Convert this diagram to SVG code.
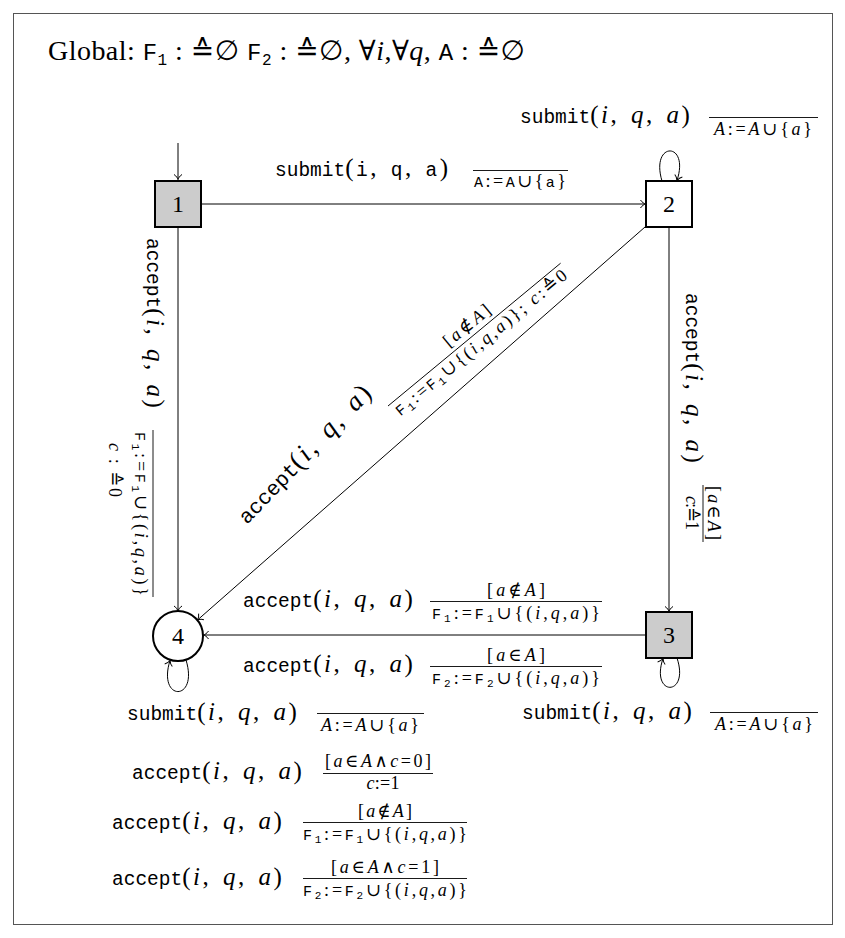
<svg xmlns="http://www.w3.org/2000/svg" width="845" height="938" viewBox="0 0 845 938">
<defs>
<style>
text { font-family: "Liberation Serif","DejaVu Serif","DejaVu Sans",serif; fill:#000; }
.tt { font-family: "Liberation Mono","DejaVu Sans Mono",monospace; }
.it { font-style: italic; }
.H { font-size: 28px; }
.H .tt { font-size: 24px; }
.L { font-size: 25px; }
.L .tt { font-size: 19.5px; }
.D { font-size: 27px; }
.D .tt { font-size: 21px; }
.m { letter-spacing: 2.5px; word-spacing: 3px; }
.S { font-size: 18px; }
.S .tt { font-size: 15px; }
.sb { font-family: "Liberation Mono","DejaVu Sans Mono",monospace; font-size: 11px; }
.H .sb { font-size: 16px; }
.bar { stroke:#000; stroke-width:0.9; }
.edge { fill:none; stroke:#000; stroke-width:1; marker-end:url(#arr); }
.sq { stroke:#000; stroke-width:2; }
.num { font-size: 24px; text-anchor: middle; }
</style>
<marker id="arr" markerUnits="userSpaceOnUse" markerWidth="12" markerHeight="12" viewBox="-7 -6 8 12" refX="0" refY="0" orient="auto">
<path d="M-5,-4 C-3.5,-1.5 -1,-0.4 0,0 C-1,0.4 -3.5,1.5 -5,4" fill="none" stroke="#000" stroke-width="1"/>
</marker>
</defs>
<rect x="13.5" y="13.5" width="819" height="911" fill="#fff" stroke="#555" stroke-width="1"/>

<text class="H" x="48" y="60" textLength="477" lengthAdjust="spacing">Global: <tspan class="tt">F</tspan><tspan class="sb" dy="5">1</tspan><tspan dy="-5"> : ≙∅ </tspan><tspan class="tt">F</tspan><tspan class="sb" dy="5">2</tspan><tspan dy="-5"> : ≙∅, ∀</tspan><tspan class="it">i</tspan>,∀<tspan class="it">q</tspan>, <tspan class="tt">A</tspan> : ≙∅</text>

<g id="connectors">
<path class="edge" d="M178,143 L178,179.5"/>
<path class="edge" d="M201,204 L645.5,204"/>
<path class="edge" d="M178,227 L178,611"/>
<path class="edge" d="M669,227 L669,611.5"/>
<path class="edge" d="M645,227 L197.5,620"/>
<path class="edge" d="M646,635 L203.5,635"/>
<path class="edge" d="M662,181 C650,141 690,141 677,180.5"/>
<path class="edge" d="M677,658 C690,697 650,697 663,658.5"/>
<path class="edge" d="M186,660 C199,702 157,702 170,660.5"/>

<!-- 1 -> 2 label -->
<text class="L" x="275" y="176"><tspan class="tt">submit</tspan><tspan class="m">(<tspan class="tt">i</tspan>, <tspan class="tt">q</tspan>, <tspan class="tt">a</tspan>)</tspan></text>
<line class="bar" x1="473" y1="170.5" x2="568" y2="170.5"/>
<text class="S" x="520" y="187" text-anchor="middle" textLength="92" lengthAdjust="spacing"><tspan class="tt">A</tspan>:=<tspan class="tt">A</tspan>∪{<tspan class="tt">a</tspan>}</text>

<!-- 2 loop label -->
<text class="L" x="520" y="123"><tspan class="tt">submit</tspan><tspan class="m">(<tspan class="it">i</tspan>, <tspan class="it">q</tspan>, <tspan class="it">a</tspan>)</tspan></text>
<line class="bar" x1="709" y1="117.5" x2="818" y2="117.5"/>
<text class="S" x="763" y="135" text-anchor="middle" textLength="98" lengthAdjust="spacing"><tspan class="it">A</tspan>:=<tspan class="it">A</tspan>∪{<tspan class="it">a</tspan>}</text>

<!-- 1 -> 4 label (rotated) -->
<g transform="translate(147,238) rotate(90)">
<text class="L" x="0" y="0"><tspan class="tt">accept</tspan><tspan class="m">(<tspan class="it">i</tspan>, <tspan class="it">q</tspan>, <tspan class="it">a</tspan>)</tspan></text>
<line class="bar" x1="192" y1="-6" x2="359" y2="-6"/>
<text class="S" x="194" y="12" textLength="164" lengthAdjust="spacing"><tspan class="tt">F</tspan><tspan class="sb" dy="3">1</tspan><tspan dy="-3">:=</tspan><tspan class="tt">F</tspan><tspan class="sb" dy="3">1</tspan><tspan dy="-3">∪{(</tspan><tspan class="it">i</tspan>,<tspan class="it">q</tspan>,<tspan class="it">a</tspan>)}</text>
<text class="S" x="205" y="38" textLength="54" lengthAdjust="spacing"><tspan class="it">c</tspan> : ≙0</text>
</g>

<!-- 2 -> 3 label (rotated) -->
<g transform="translate(686,293) rotate(90)">
<text class="L" x="0" y="0"><tspan class="tt">accept</tspan><tspan class="m">(<tspan class="it">i</tspan>, <tspan class="it">q</tspan>, <tspan class="it">a</tspan>)</tspan></text>
<line class="bar" x1="192" y1="-17" x2="249" y2="-17"/>
<text class="S" x="220" y="-22" text-anchor="middle" textLength="54" lengthAdjust="spacing">[<tspan class="it">a</tspan>∈<tspan class="it">A</tspan>]</text>
<text class="S" x="220" y="0" text-anchor="middle" textLength="34" lengthAdjust="spacing"><tspan class="it">c</tspan>:≙1</text>
</g>

<!-- 2 -> 4 diagonal label -->
<g transform="translate(247,525) rotate(-46)">
<text class="D" x="0" y="0"><tspan class="tt">accept</tspan><tspan class="m">(<tspan class="it">i</tspan>, <tspan class="it">q</tspan>, <tspan class="it">a</tspan>)</tspan></text>
</g>
<g transform="translate(388,406) rotate(-39.6)">
<line class="bar" x1="0" y1="0" x2="224" y2="0"/>
<text class="S" x="112" y="-6" text-anchor="middle" textLength="56" lengthAdjust="spacing">[<tspan class="it">a</tspan>∉<tspan class="it">A</tspan>]</text>
<text class="S" x="112" y="16" text-anchor="middle" textLength="218" lengthAdjust="spacing"><tspan class="tt">F</tspan><tspan class="sb" dy="3">1</tspan><tspan dy="-3">:=</tspan><tspan class="tt">F</tspan><tspan class="sb" dy="3">1</tspan><tspan dy="-3">∪{(</tspan><tspan class="it">i</tspan>,<tspan class="it">q</tspan>,<tspan class="it">a</tspan>)}; <tspan class="it">c</tspan>:≙0</text>
</g>

<!-- 3 -> 4 labels -->
<text class="L" x="243" y="607"><tspan class="tt">accept</tspan><tspan class="m">(<tspan class="it">i</tspan>, <tspan class="it">q</tspan>, <tspan class="it">a</tspan>)</tspan></text>
<line class="bar" x1="430" y1="601.5" x2="602" y2="601.5"/>
<text class="S" x="516" y="596" text-anchor="middle" textLength="58" lengthAdjust="spacing">[<tspan class="it">a</tspan>∉<tspan class="it">A</tspan>]</text>
<text class="S" x="516" y="619" text-anchor="middle" textLength="168" lengthAdjust="spacing"><tspan class="tt">F</tspan><tspan class="sb" dy="3">1</tspan><tspan dy="-3">:=</tspan><tspan class="tt">F</tspan><tspan class="sb" dy="3">1</tspan><tspan dy="-3">∪{(</tspan><tspan class="it">i</tspan>,<tspan class="it">q</tspan>,<tspan class="it">a</tspan>)}</text>

<text class="L" x="243" y="672"><tspan class="tt">accept</tspan><tspan class="m">(<tspan class="it">i</tspan>, <tspan class="it">q</tspan>, <tspan class="it">a</tspan>)</tspan></text>
<line class="bar" x1="430" y1="666.5" x2="602" y2="666.5"/>
<text class="S" x="516" y="661" text-anchor="middle" textLength="58" lengthAdjust="spacing">[<tspan class="it">a</tspan>∈<tspan class="it">A</tspan>]</text>
<text class="S" x="516" y="684" text-anchor="middle" textLength="168" lengthAdjust="spacing"><tspan class="tt">F</tspan><tspan class="sb" dy="3">2</tspan><tspan dy="-3">:=</tspan><tspan class="tt">F</tspan><tspan class="sb" dy="3">2</tspan><tspan dy="-3">∪{(</tspan><tspan class="it">i</tspan>,<tspan class="it">q</tspan>,<tspan class="it">a</tspan>)}</text>

<!-- 3 loop label -->
<text class="L" x="522" y="719"><tspan class="tt">submit</tspan><tspan class="m">(<tspan class="it">i</tspan>, <tspan class="it">q</tspan>, <tspan class="it">a</tspan>)</tspan></text>
<line class="bar" x1="710" y1="712.5" x2="818" y2="712.5"/>
<text class="S" x="764" y="730" text-anchor="middle" textLength="98" lengthAdjust="spacing"><tspan class="it">A</tspan>:=<tspan class="it">A</tspan>∪{<tspan class="it">a</tspan>}</text>

<!-- 4 loop labels -->
<text class="L" x="127" y="720"><tspan class="tt">submit</tspan><tspan class="m">(<tspan class="it">i</tspan>, <tspan class="it">q</tspan>, <tspan class="it">a</tspan>)</tspan></text>
<line class="bar" x1="317" y1="713.5" x2="424" y2="713.5"/>
<text class="S" x="370" y="731" text-anchor="middle" textLength="98" lengthAdjust="spacing"><tspan class="it">A</tspan>:=<tspan class="it">A</tspan>∪{<tspan class="it">a</tspan>}</text>

<text class="L" x="132" y="779"><tspan class="tt">accept</tspan><tspan class="m">(<tspan class="it">i</tspan>, <tspan class="it">q</tspan>, <tspan class="it">a</tspan>)</tspan></text>
<line class="bar" x1="323" y1="773.5" x2="433" y2="773.5"/>
<text class="S" x="378" y="767" text-anchor="middle" textLength="106" lengthAdjust="spacing">[<tspan class="it">a</tspan>∈<tspan class="it">A</tspan>∧<tspan class="it">c</tspan>=0]</text>
<text class="S" x="383" y="789" text-anchor="middle" textLength="33" lengthAdjust="spacing"><tspan class="it">c</tspan>:=1</text>

<text class="L" x="112" y="829"><tspan class="tt">accept</tspan><tspan class="m">(<tspan class="it">i</tspan>, <tspan class="it">q</tspan>, <tspan class="it">a</tspan>)</tspan></text>
<line class="bar" x1="303" y1="822.5" x2="467" y2="822.5"/>
<text class="S" x="385" y="817" text-anchor="middle" textLength="54" lengthAdjust="spacing">[<tspan class="it">a</tspan>∉<tspan class="it">A</tspan>]</text>
<text class="S" x="385" y="840" text-anchor="middle" textLength="164" lengthAdjust="spacing"><tspan class="tt">F</tspan><tspan class="sb" dy="3">1</tspan><tspan dy="-3">:=</tspan><tspan class="tt">F</tspan><tspan class="sb" dy="3">1</tspan><tspan dy="-3">∪{(</tspan><tspan class="it">i</tspan>,<tspan class="it">q</tspan>,<tspan class="it">a</tspan>)}</text>

<text class="L" x="112" y="885"><tspan class="tt">accept</tspan><tspan class="m">(<tspan class="it">i</tspan>, <tspan class="it">q</tspan>, <tspan class="it">a</tspan>)</tspan></text>
<line class="bar" x1="303" y1="878.5" x2="467" y2="878.5"/>
<text class="S" x="385" y="873" text-anchor="middle" textLength="108" lengthAdjust="spacing">[<tspan class="it">a</tspan>∈<tspan class="it">A</tspan>∧<tspan class="it">c</tspan>=1]</text>
<text class="S" x="385" y="896" text-anchor="middle" textLength="164" lengthAdjust="spacing"><tspan class="tt">F</tspan><tspan class="sb" dy="3">2</tspan><tspan dy="-3">:=</tspan><tspan class="tt">F</tspan><tspan class="sb" dy="3">2</tspan><tspan dy="-3">∪{(</tspan><tspan class="it">i</tspan>,<tspan class="it">q</tspan>,<tspan class="it">a</tspan>)}</text>
</g>

<g id="node1"><rect class="sq" x="155" y="181" width="46" height="46" fill="#ccc"/><text class="num" x="178" y="212">1</text></g>
<g id="node2"><rect class="sq" x="646" y="181" width="46" height="46" fill="#fff"/><text class="num" x="669" y="212">2</text></g>
<g id="node3"><rect class="sq" x="646" y="612" width="46" height="46" fill="#ccc"/><text class="num" x="669" y="643">3</text></g>
<g id="node4"><circle cx="178" cy="636" r="25" fill="#fff" stroke="#000" stroke-width="2"/><text class="num" x="178" y="644">4</text></g>
</svg>
